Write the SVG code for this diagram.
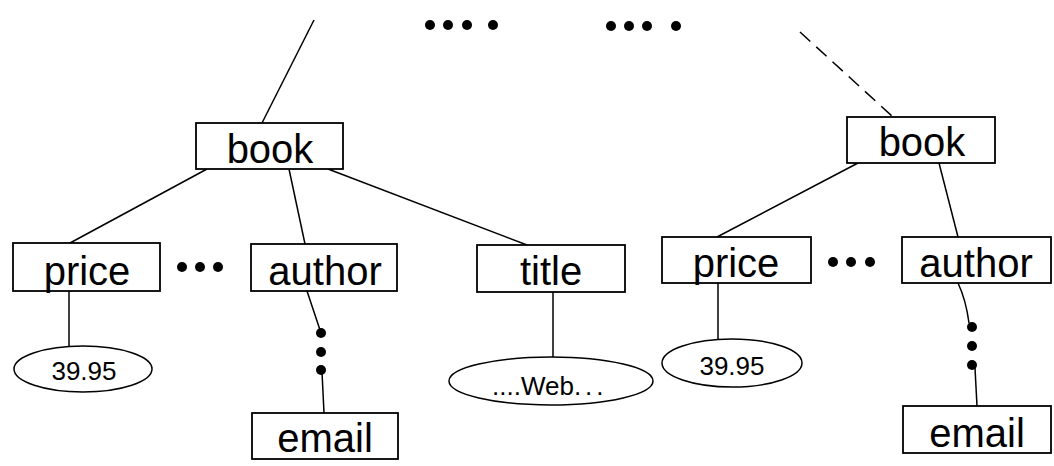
<svg xmlns="http://www.w3.org/2000/svg" width="1054" height="466" viewBox="0 0 1054 466">
<style>
.box{fill:#fff;stroke:#000;stroke-width:1.8}
.val{fill:#fff;stroke:#000;stroke-width:1.5}
.lbl{font-family:"Liberation Sans",Arial,sans-serif;font-size:40px;fill:#000;text-anchor:middle}
.vlbl{font-family:"Liberation Sans",Arial,sans-serif;font-size:26px;fill:#000;text-anchor:middle}
.edge{stroke:#000;stroke-width:1.5;fill:none}
.dot{fill:#000}
</style>
<rect width="1054" height="466" fill="#fff"/>
<g id="connectors">
<line class="edge" x1="314" y1="20" x2="262" y2="123"/>
<line class="edge" x1="800" y1="32" x2="893" y2="117" stroke-dasharray="14,8"/>
<line class="edge" x1="207" y1="169" x2="70" y2="243"/>
<line class="edge" x1="289" y1="169" x2="305" y2="244"/>
<line class="edge" x1="328" y1="169" x2="527" y2="245"/>
<line class="edge" x1="69" y1="291" x2="69" y2="346"/>
<line class="edge" x1="307" y1="291" x2="320" y2="330"/>
<line class="edge" x1="322" y1="372" x2="324" y2="413"/>
<line class="edge" x1="553" y1="292" x2="553" y2="357"/>
<line class="edge" x1="858" y1="163" x2="717" y2="237"/>
<line class="edge" x1="939" y1="163" x2="958" y2="237"/>
<line class="edge" x1="718" y1="283" x2="718" y2="339"/>
<path class="edge" d="M958 283 Q966 300 969 323"/>
<line class="edge" x1="975" y1="368" x2="977" y2="406"/>
</g>
<g id="ellipsis-top-1">
<circle class="dot" cx="430" cy="25" r="5"/>
<circle class="dot" cx="448" cy="25" r="5"/>
<circle class="dot" cx="467" cy="25" r="5"/>
<circle class="dot" cx="493" cy="25" r="5"/>
</g>
<g id="ellipsis-top-2">
<circle class="dot" cx="611" cy="26" r="5"/>
<circle class="dot" cx="629" cy="26" r="5"/>
<circle class="dot" cx="647" cy="26" r="5"/>
<circle class="dot" cx="676" cy="26" r="5"/>
</g>
<g id="ellipsis-left">
<circle class="dot" cx="182" cy="267" r="5"/>
<circle class="dot" cx="200" cy="267" r="5"/>
<circle class="dot" cx="218" cy="267" r="5"/>
</g>
<g id="ellipsis-right">
<circle class="dot" cx="833" cy="262" r="5"/>
<circle class="dot" cx="851" cy="262" r="5"/>
<circle class="dot" cx="870" cy="262" r="5"/>
</g>
<g id="path-dots-left">
<circle class="dot" cx="321" cy="333" r="5"/>
<circle class="dot" cx="321" cy="352" r="5"/>
<circle class="dot" cx="321" cy="370" r="5"/>
</g>
<g id="path-dots-right">
<circle class="dot" cx="972" cy="327" r="5"/>
<circle class="dot" cx="972" cy="346" r="5"/>
<circle class="dot" cx="972" cy="365" r="5"/>
</g>
<g id="book1">
<rect class="box" x="196" y="123" width="147" height="46"/>
<text class="lbl" x="270" y="163">book</text>
</g>
<g id="book2">
<rect class="box" x="847" y="117" width="148" height="46"/>
<text class="lbl" x="922" y="156">book</text>
</g>
<g id="price1">
<rect class="box" x="13" y="243" width="147" height="48"/>
<text class="lbl" x="87" y="285">price</text>
</g>
<g id="author1">
<rect class="box" x="251" y="244" width="146" height="47"/>
<text class="lbl" x="325" y="285">author</text>
</g>
<g id="title1">
<rect class="box" x="477" y="245" width="148" height="47"/>
<text class="lbl" x="551" y="285">title</text>
</g>
<g id="email1">
<rect class="box" x="252" y="413" width="146" height="46"/>
<text class="lbl" x="325" y="452">email</text>
</g>
<g id="price2">
<rect class="box" x="662" y="237" width="149" height="46"/>
<text class="lbl" x="736" y="277">price</text>
</g>
<g id="author2">
<rect class="box" x="902" y="237" width="149" height="46"/>
<text class="lbl" x="976" y="277">author</text>
</g>
<g id="email2">
<rect class="box" x="903" y="406" width="148" height="47"/>
<text class="lbl" x="977" y="447">email</text>
</g>
<g id="value-price1">
<ellipse class="val" cx="83" cy="369" rx="69" ry="23"/>
<text class="vlbl" x="84" y="380">39.95</text>
</g>
<g id="value-title1">
<ellipse class="val" cx="551" cy="381" rx="102" ry="24"/>
<text class="vlbl" x="492" y="395" style="text-anchor:start">....Web<tspan letter-spacing="4">...</tspan></text>
</g>
<g id="value-price2">
<ellipse class="val" cx="732" cy="363" rx="70" ry="24"/>
<text class="vlbl" x="732" y="375">39.95</text>
</g>
</svg>
